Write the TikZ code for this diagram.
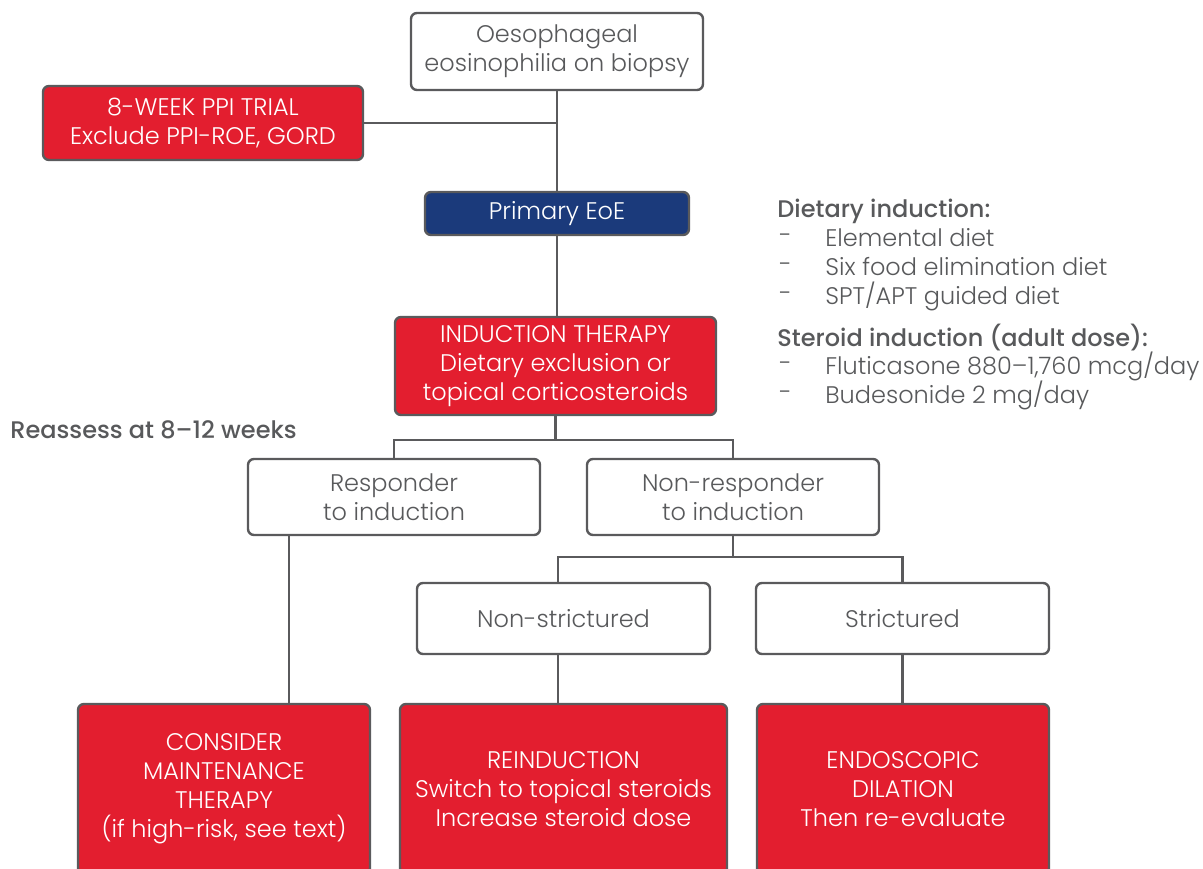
\documentclass[tikz,border=0pt]{standalone}
\usepackage{fontspec}
\setmainfont{Poppins Light}[BoldFont={Poppins Medium}]
\usetikzlibrary{positioning}

\definecolor{boxred}{HTML}{E31E2F}
\definecolor{boxblue}{HTML}{1B3A7B}
\definecolor{linegray}{HTML}{5A5A5C}
\definecolor{textgray}{HTML}{58595B}

\tikzset{
  box/.style={draw=linegray,line width=1.2pt,rounded corners=3pt,fill=white,text=textgray,
    align=center,inner sep=0pt,font=\fontsize{12}{14.5}\selectfont},
  redbox/.style={box,fill=boxred,text=white},
  bluebox/.style={box,fill=boxblue,text=white},
  link/.style={draw=linegray,line width=1.2pt},
  head/.style={anchor=west,inner sep=0pt,text=textgray,font=\fontsize{12}{14.5}\selectfont\bfseries},
  item/.style={anchor=west,inner sep=0pt,text=textgray,font=\fontsize{12}{14.5}\selectfont}
}

\begin{document}
\begin{tikzpicture}[x=0.5pt,y=-0.5pt]
\useasboundingbox (0,0) rectangle (1203,868);

% main column
\node[box,minimum width=146pt,minimum height=38.5pt] (biopsy) at (557,51.5) {Oesophageal\\eosinophilia on biopsy};
\node[redbox,minimum width=160pt,minimum height=37pt] (ppi) at (203,123) {8-WEEK PPI TRIAL\\Exclude PPI-ROE, GORD};
\node[bluebox,minimum width=132pt,minimum height=21.5pt] (primary) at (557,213.5) {Primary EoE};
\node[redbox,minimum width=160.5pt,minimum height=49pt] (induct) at (555.5,366) {INDUCTION THERAPY\\Dietary exclusion or\\topical corticosteroids};

% response
\node[box,minimum width=146pt,minimum height=38pt] (resp) at (394,497) {Responder\\to induction};
\node[box,minimum width=146pt,minimum height=38pt] (nonresp) at (733,497) {Non-responder\\to induction};
\node[box,minimum width=146.5pt,minimum height=35.5pt] (nonstr) at (563.5,618.5) {Non-strictured};
\node[box,minimum width=146.5pt,minimum height=35.5pt] (strict) at (902.5,618.5) {Strictured};

% outcomes
\node[redbox,minimum width=146pt,minimum height=85pt] (maint) at (224,789) {CONSIDER\\MAINTENANCE\\THERAPY\\(if high-risk, see text)};
\node[redbox,minimum width=163.5pt,minimum height=85pt] (reind) at (563.5,789) {REINDUCTION\\Switch to topical steroids\\Increase steroid dose};
\node[redbox,minimum width=146pt,minimum height=85pt] (dilat) at (903,789) {ENDOSCOPIC\\DILATION\\Then re-evaluate};

% connectors
\draw[link] (biopsy) -- (primary);
\draw[link] (ppi.east) -- (ppi.east -| biopsy.south);
\draw[link] (primary.south) -- (primary.south |- induct.north);
\draw[link] (induct.south) -- ++(0,24) coordinate (split1);
\draw[link] (resp.north) |- (split1) -| (nonresp.north);
\draw[link] ([xshift=-52.5pt]resp.south) -- ([xshift=-52.5pt]resp.south |- maint.north);
\draw[link] (nonresp.south) -- ++(0,21) coordinate (split2);
\draw[link] ([xshift=-2.75pt]nonstr.north) |- (split2) -| (strict.north);
\draw[link] ([xshift=-2.75pt]nonstr.south) -- ([xshift=-2.75pt]nonstr.south |- reind.north);
\draw[link] (strict.south) -- (strict.south |- dilat.north);

% side notes
\node[head] (reassess) at (10,430) {Reassess at 8–12 weeks};
\node[head] (diet) at (777,211) {Dietary induction:};
\foreach \t [count=\n] in {Elemental diet, Six food elimination diet, SPT/APT guided diet} {
  \node[item] (dietdash\n) at (779,210+\n*29) {-};
  \node[item] (diet\n) at (825,209+\n*29) {\t};
}
\node[head] (steroid) at (777,338) {Steroid induction (adult dose):};
\foreach \t [count=\n] in {{Fluticasone 880–1,760 mcg/day}, {Budesonide 2 mg/day}} {
  \node[item] (steroiddash\n) at (779,338+\n*29) {-};
  \node[item] (steroid\n) at (825,337+\n*29) {\t};
}
\end{tikzpicture}
\end{document}
